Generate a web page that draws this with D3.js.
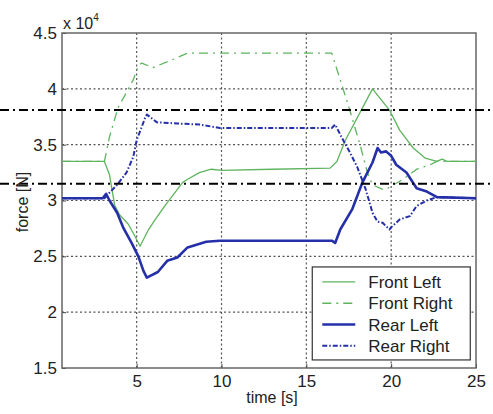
<!DOCTYPE html>
<html>
<head>
<meta charset="utf-8">
<script src="https://cdn.jsdelivr.net/npm/d3@7"></script>
<style>
  body { margin: 0; background: #fff; }
  text { font-family: Arial, "Liberation Sans", sans-serif; fill: #222; }
</style>
</head>
<body>
<div id="chart"></div>
<script>
// Values are force in units of 1e4 N, time in s
const frontLeft = [[0.6,3.35],[3.1,3.35],[3.4,3.23],[3.7,2.96],[4.0,2.87],[4.5,2.79],[4.9,2.68],[5.2,2.59],
    [5.7,2.74],[6.1,2.83],[6.7,2.96],[7.1,3.04],[7.7,3.16],[8.0,3.19],[8.7,3.25],[9.4,3.28],[10,3.27],
    [13,3.28],[16.4,3.29],[16.8,3.35],[17.3,3.54],[18.9,4.0],[19.9,3.81],[20.5,3.63],[21.3,3.47],
    [22.0,3.38],[22.7,3.35],[23.0,3.37],[23.3,3.35],[25,3.35]];
const frontRight = [[0.6,3.35],[3.1,3.35],[3.4,3.57],[3.9,3.83],[4.8,4.08],[5.1,4.21],[5.3,4.23],[5.95,4.19],
    [7.1,4.26],[8.0,4.32],[16.5,4.32],[17.0,4.08],[17.5,3.84],[18.2,3.48],[18.6,3.25],[18.9,3.14],
    [19.5,3.1],[19.8,3.11],[20.7,3.19],[21.5,3.28],[22.3,3.32],[22.7,3.35],[25,3.35]];
const rearLeft = [[0.6,3.02],[3.0,3.02],[3.2,3.06],[3.4,3.0],[3.85,2.89],[4.2,2.76],[4.7,2.62],[5.1,2.5],
    [5.4,2.37],[5.6,2.31],[6.25,2.36],[6.8,2.46],[7.4,2.49],[8.0,2.58],[9.1,2.63],[9.9,2.64],[16.5,2.64],
    [16.7,2.62],[17.0,2.74],[17.7,2.92],[18.3,3.16],[18.9,3.34],[19.2,3.47],[19.4,3.43],[19.7,3.44],
    [20.0,3.40],[20.3,3.32],[20.9,3.25],[21.5,3.11],[22.1,3.08],[22.7,3.03],[25,3.02]];
const rearRight = [[0.6,3.02],[3.1,3.02],[3.4,3.07],[3.85,3.14],[4.4,3.25],[4.8,3.39],[5.0,3.54],[5.5,3.74],
    [5.6,3.77],[6.2,3.7],[7.4,3.69],[8.7,3.68],[9.9,3.65],[16.5,3.65],[16.7,3.68],[17.1,3.56],[17.5,3.45],
    [18.0,3.3],[18.5,3.1],[18.9,2.89],[19.2,2.81],[19.5,2.8],[19.9,2.74],[20.0,2.76],[20.5,2.83],
    [21.1,2.86],[21.5,2.95],[22.1,3.0],[22.7,3.03],[25,3.02]];
const limitLines = [3.81, 3.15];
const xTicks = [5, 10, 15, 20, 25];
const yTicks = [1.5, 2, 2.5, 3, 3.5, 4, 4.5];
const seriesNames = ["Front Left", "Front Right", "Rear Left", "Rear Right"];

const W = 493, H = 414;
const margin = { top: 33, right: 17, bottom: 46, left: 62 };
const width = W - margin.left - margin.right,
    height = H - margin.top - margin.bottom;

const svg = d3.select("#chart").append("svg")
    .attr("width", W).attr("height", H);
const g = svg.append("g").attr("transform", `translate(${margin.left},${margin.top})`);

const x = d3.scaleLinear().domain([0.6, 25]).range([0, width]);
const y = d3.scaleLinear().domain([1.5, 4.5]).range([height, 0]);

// dotted grid
g.selectAll(".vgrid").data(xTicks.slice(0, -1)).enter().append("line")
    .attr("x1", d => x(d)).attr("x2", d => x(d)).attr("y1", 0).attr("y2", height)
    .attr("stroke", "#555").attr("stroke-width", 1.2).attr("stroke-dasharray", "2,2.5");
g.selectAll(".hgrid").data(yTicks.slice(1, -1)).enter().append("line")
    .attr("x1", 0).attr("x2", width).attr("y1", d => y(d)).attr("y2", d => y(d))
    .attr("stroke", "#555").attr("stroke-width", 1.2).attr("stroke-dasharray", "2,2.5");

// axes
const xAxis = g.append("g").attr("transform", `translate(0,${height})`)
    .call(d3.axisBottom(x).tickValues(xTicks).tickSize(-4).tickPadding(10));
const yAxis = g.append("g")
    .call(d3.axisLeft(y).tickValues(yTicks).tickSize(-4).tickPadding(5).tickFormat(d3.format("")));
[xAxis, yAxis].forEach(a => {
    a.select(".domain").remove();
    a.selectAll("line").attr("stroke", "#444");
    a.selectAll("text").style("font-size", "17px").attr("fill", "#222");
});
xAxis.selectAll("text").attr("dy", "0.55em");

// frame
g.append("rect").attr("width", width).attr("height", height)
    .attr("fill", "none").attr("stroke", "#666").attr("stroke-width", 1.5);

const line = d3.line().x(d => x(d[0])).y(d => y(d[1]));

const styles = [
    { data: frontLeft, color: "#5fb45f", w: 1.3, dash: null },
    { data: frontRight, color: "#5fb45f", w: 1.3, dash: "9,5,2,5" },
    { data: rearLeft, color: "#2530a8", w: 2.6, dash: null },
    { data: rearRight, color: "#2530a8", w: 2, dash: "5,2,1.5,2" }
];

styles.forEach(s => {
    g.append("path").datum(s.data)
        .attr("fill", "none")
        .attr("stroke", s.color)
        .attr("stroke-width", s.w)
        .attr("stroke-dasharray", s.dash)
        .attr("stroke-linejoin", "round")
        .attr("d", line);
});

// black dash-dot limit lines across the whole figure
g.selectAll(".limit").data(limitLines).enter().append("line")
    .attr("x1", -margin.left).attr("x2", width + margin.right)
    .attr("y1", d => y(d)).attr("y2", d => y(d))
    .attr("stroke", "#000").attr("stroke-width", 2)
    .attr("stroke-dasharray", "9,4,2,4");

// legend
const lg = g.append("g").attr("transform", `translate(${x(15.35)},${y(2.405)})`);
lg.append("rect").attr("width", 158).attr("height", 93)
    .attr("fill", "#fff").attr("stroke", "#333").attr("stroke-width", 1.2);
seriesNames.forEach((name, i) => {
    const s = styles[i];
    const yy = 15 + i * 21.3;
    lg.append("line").attr("x1", 10).attr("x2", 43).attr("y1", yy).attr("y2", yy)
        .attr("stroke", s.color).attr("stroke-width", s.w)
        .attr("stroke-dasharray", s.dash);
    lg.append("text").attr("x", 56).attr("y", yy).attr("dy", "0.36em")
        .style("font-size", "17px").text(name);
});

// axis titles
svg.append("text").attr("x", 272).attr("y", 403).attr("text-anchor", "middle")
    .style("font-size", "16px").text("time [s]");
svg.append("text").attr("transform", "translate(28,202) rotate(-90)")
    .attr("text-anchor", "middle").style("font-size", "16px").text("force [N]");

// exponent label
const ex = svg.append("text").attr("x", 63).attr("y", 29).style("font-size", "16px");
ex.append("tspan").text("x 10");
ex.append("tspan").attr("dy", -8).style("font-size", "10px").text("4");
</script>
</body>
</html>
